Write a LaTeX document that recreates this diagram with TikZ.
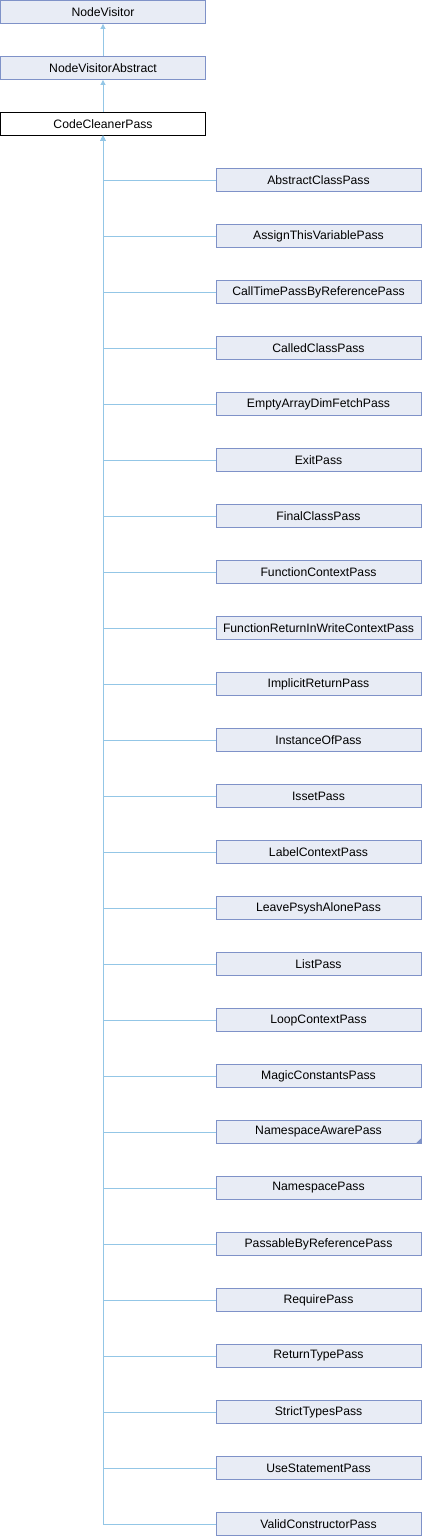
\documentclass[tikz,border=0pt]{standalone}
\usepackage{fontspec}
\setmainfont{Liberation Sans}
\usetikzlibrary{arrows.meta}
\definecolor{boxfill}{HTML}{E8ECF5}
\definecolor{boxline}{HTML}{7F92C8}
\definecolor{edgecol}{HTML}{93C6E6}
\tikzset{
  cls/.style={draw=boxline, fill=boxfill, line width=0.9pt, minimum width=205pt, minimum height=23pt, inner sep=0pt, font=\fontsize{12.2}{14}\selectfont},
  cur/.style={cls, draw=black, fill=white},
  edge/.style={draw=edgecol, line width=0.9pt, -{Triangle[length=5pt,width=5pt]}}
}
\begin{document}
\begin{tikzpicture}[x=1pt,y=1pt]
\useasboundingbox (0,0) rectangle (422,-1536);
\node[cls] (nv) at (103,-12) {NodeVisitor};
\node[cls] (nva) at (103,-68) {NodeVisitorAbstract};
\node[cur] (ccp) at (103,-124) {CodeCleanerPass};
\draw[edge] (nva.north) -- (nv.south);
\draw[edge] (ccp.north) -- (nva.south);
\foreach \name [count=\i from 0] in {AbstractClassPass,AssignThisVariablePass,CallTimePassByReferencePass,CalledClassPass,EmptyArrayDimFetchPass,ExitPass,FinalClassPass,FunctionContextPass,FunctionReturnInWriteContextPass,ImplicitReturnPass,InstanceOfPass,IssetPass,LabelContextPass,LeavePsyshAlonePass,ListPass,LoopContextPass,MagicConstantsPass,NamespaceAwarePass,NamespacePass,PassableByReferencePass,RequirePass,ReturnTypePass,StrictTypesPass,UseStatementPass,ValidConstructorPass}{
  \node[cls] (c\i) at (318.5,{-180-56*\i}) {\name};
  \draw[edge] (c\i.west) -| (ccp.south);
}
\fill[boxline] (c17.south east) -- ++(0,6) -- ++(-6,-6) -- cycle;
\end{tikzpicture}
\end{document}
